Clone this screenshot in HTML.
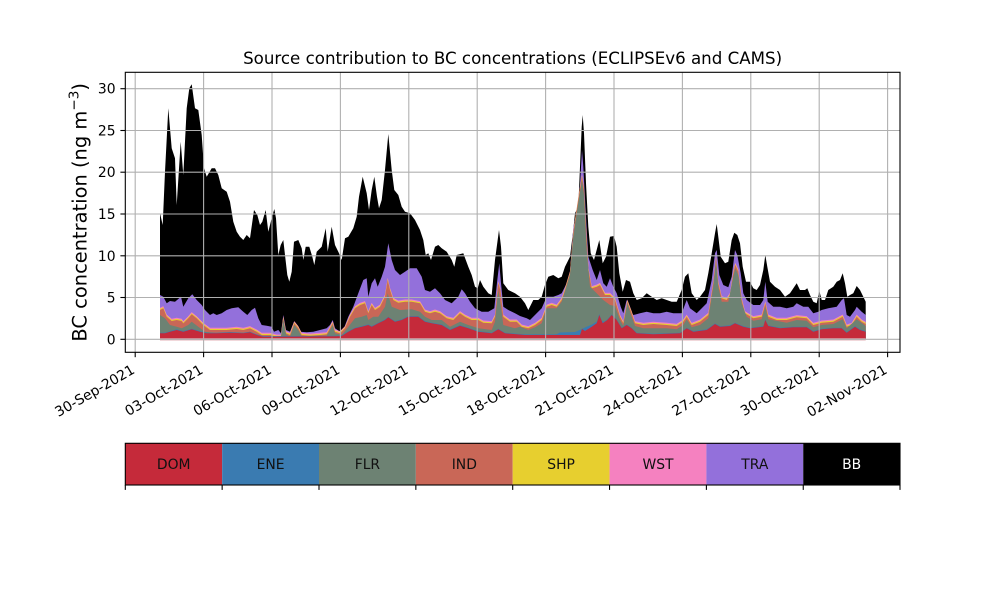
<!DOCTYPE html>
<html><head><meta charset="utf-8"><style>
html,body{margin:0;padding:0;background:#fff;}
svg{display:block;font-family:"DejaVu Sans","Liberation Sans",sans-serif;}
</style></head><body>
<svg width="1000" height="600" viewBox="0 0 1000 600" xmlns="http://www.w3.org/2000/svg">
<rect width="1000" height="600" fill="#fff"/>
<defs>
<path id="ind" d="M160,339.3 L160,310 L163.3,308.3 L166.7,316.7 L171.7,321 L176.7,320 L181.7,321 L183.3,323.3 L188.3,318.3 L191.7,314.3 L196.7,318.3 L203.3,325 L210,330 L216.7,330 L226.7,330 L236.7,329 L243.3,330 L250,328.3 L256.7,331.7 L261.7,335 L270,335 L276.7,336.7 L281,336.7 L283.3,318.3 L286,333.3 L290,335 L294.3,323.3 L298.3,328.3 L301.7,335 L310,335.7 L320,335 L326.7,334.3 L332.7,323.3 L335,331.7 L340,333.3 L345,328.3 L350,316.7 L355,308.3 L360,305 L365,303.3 L368.3,313.3 L371.7,305 L375,310 L380,306.7 L385,296.7 L387.7,280 L390,290 L393.3,300 L398.3,302.7 L405,301.7 L411.7,301.7 L420,303.3 L425,311.7 L430,313.3 L435,311.7 L440,313.3 L446.7,318.3 L453.3,320 L460,313.3 L465,316.7 L471.7,320 L478.3,320 L483.3,322.7 L491.7,323.3 L495,316.7 L498.3,283.3 L500.3,290 L503.3,316.7 L510,321.7 L516.7,321.7 L521.7,326.7 L528.3,328.3 L535,325 L541.7,320 L546.7,306.7 L551.7,305 L556.7,306.7 L561.7,300 L565,290 L570,273.3 L573.3,233.3 L576,215 L579,195 L582,176.7 L584,190 L586.7,240 L588.5,270 L591.7,288.3 L596.7,286.7 L600,285 L605,295 L610,295 L615,300 L620,316.7 L623.3,323.3 L627.3,301.7 L631.7,313.3 L635,323.3 L643.3,325 L653.3,324 L666.7,325 L676.7,326 L683.3,321.7 L686.7,316.7 L691.7,325 L700,321.7 L708.3,315 L713.3,283.3 L716,258.3 L718.3,283.3 L721.7,298.3 L726.7,300 L730,295 L733.3,273.3 L735.3,265 L738.3,271.7 L741.7,300 L745,313.3 L753.3,318.3 L761.7,316.7 L765.3,303.3 L768.3,316.7 L776.7,320 L786.7,320 L796.7,317.3 L806.7,318.3 L813.3,325 L821.7,322.7 L833.3,321.7 L842.7,316.7 L846.7,326.7 L851.7,325 L856.7,316.7 L861.7,321.7 L865.7,324 L865.7,339.3 Z"/>
<path id="dom" d="M160,339.3 L160,333.3 L165,333.3 L170,331.7 L176.7,330 L183.3,331.7 L191.7,329.3 L200,331.7 L206.7,333.3 L216.7,333.3 L230,332.7 L243.3,333.3 L250,332.3 L256.7,335 L263.3,336.7 L336.7,336.3 L341.7,336 L348.3,331.7 L355,328.3 L361.7,326.7 L368.3,325 L371.7,326.7 L378.3,323.3 L385,320 L388.3,317.3 L395,321.7 L401.7,320 L408.3,316.7 L418.3,316.7 L425,321.7 L431.7,323.3 L441.7,325 L450,330 L460,325.7 L468.3,328.3 L478.3,331.7 L491.7,333.3 L498.3,329.3 L505,333.3 L525,335 L540,335 L560,335 L580,335 L582,329 L585,331 L591.7,326.7 L596.7,323.3 L599.3,315 L602.7,323.3 L607.3,320 L611.7,315 L616.7,320 L621.7,328.3 L626.7,325 L631.7,328.3 L636.7,333.3 L653.3,334.3 L680,333.3 L686.7,328.3 L693.3,331.7 L706.7,330 L715,324 L720,326.7 L730,326 L735,323.3 L743.3,326.7 L750,328.3 L763.3,326.7 L765.3,320 L768.3,326 L780,328.3 L793.3,327.3 L806.7,327.3 L813.3,331.7 L821.7,329.3 L833.3,328.3 L841.7,328.3 L846.7,332.7 L855,326.7 L860,330 L865.7,331.7 L865.7,339.3 Z"/>
</defs>
<!-- BB total -->
<path fill="#000" d="M160,339.3 L160,213.3 L162.7,225 L165,171.7 L168.3,108.3 L171.7,148.3 L175,158.3 L176.7,205 L180.7,141.7 L183.3,175 L186.7,108.3 L189.3,88.3 L191.7,84.3 L195,108.3 L198.3,110 L201.7,135 L204,168.3 L206.7,176.7 L211.7,168.3 L215,168.3 L218.3,175 L221.7,188.3 L226.7,191.7 L230,201.7 L233.3,221.7 L236.7,231.7 L240,236.7 L243.3,240 L246.7,235 L250,238.3 L254,210 L257.3,215 L260,225 L262.3,221.7 L265.7,210 L268.3,231.7 L271.7,218.3 L274.3,209 L276,218.3 L278.3,255 L280.7,245 L283.3,240 L285,255 L287.3,275 L289.3,281.7 L291.7,271.7 L294,241.7 L298.3,240 L301.7,248.3 L303.3,260 L305.7,246.7 L309.3,246.7 L312.3,256.7 L314.3,265 L316.7,251.7 L321.7,246.7 L325.7,228.3 L327.7,251.7 L331.7,226.7 L335,245 L339,253.3 L341.7,260 L345,238.3 L348.3,236.7 L353.3,228.3 L356.7,216.7 L359,196.7 L362.7,176.7 L366.7,193.3 L369,210 L371.7,190 L374.3,176.7 L377,196.7 L379,208.3 L381.7,200 L385,170 L388.3,134 L391.7,170 L394.3,190 L398.3,195 L401.7,206.7 L405,211.7 L410,213.3 L415,220 L420,230 L423.3,240 L425.7,255 L428.3,253.3 L431,260 L435,246.7 L438.3,245 L441.7,248.3 L446.7,251.7 L451.7,260 L454.3,266.7 L456.7,255 L463.3,253.3 L468.3,266.7 L471.7,275 L475,286.7 L477.7,288.3 L480,280 L483.3,286.7 L488.3,293.3 L491.7,295 L495,260 L499,230 L501,246.7 L503.3,283.3 L508.3,290 L515,293.3 L520,296.7 L525,303.3 L528.3,310 L533.3,300 L538.3,300 L541.7,296.7 L545,285 L548.3,276.7 L553.3,275 L558.3,278.3 L561.7,276.7 L565,266.7 L570,256.7 L573.3,230 L575,213.3 L578.3,206.7 L580,166.7 L581.7,126.7 L582.7,115 L584,133.3 L586,183.3 L588.3,226.7 L590.7,253.3 L594,260 L599.3,240 L602.7,263.3 L606,256.7 L610,236.7 L614,236 L616.7,246.7 L619.3,273.3 L622.7,291.7 L626,280 L630,281.7 L633.3,293.3 L636.7,300 L641.7,298.3 L646.7,293.3 L651.7,296.7 L656.7,300 L661.7,298.3 L666.7,300 L671.7,301.7 L676.7,301.7 L681.7,290 L685,276.7 L688.3,273.3 L691.7,293.3 L696.7,300 L700,296.7 L705,290 L708.3,273.3 L711.7,253.3 L715,233.3 L716.7,224 L718.3,236.7 L720.7,256.7 L725,263.3 L728.3,261.7 L731.7,240 L734.3,232.7 L737.3,235 L740,243.3 L742.7,266.7 L746,281.7 L750,281.7 L753.3,288.3 L756.7,290 L760,285 L763.3,270 L765.3,255 L767.3,266.7 L770,281.7 L775,286.7 L780,290 L785,296.7 L790,293.3 L796.7,283.3 L800,290 L805,290 L807.3,288.3 L810,295 L813.3,301.7 L816.7,303.3 L819.3,290.7 L821.7,300 L825,300 L828.3,290 L833.3,286.7 L836.7,281.7 L840,280 L842.7,273.3 L845,283.3 L847.3,296.7 L850,295 L853.3,293.3 L856.7,286 L860,290 L863.3,296.7 L865.7,301.7 L865.7,339.3 Z"/>
<!-- TRA -->
<path fill="#9370DB" d="M160,339.3 L160,295 L163.3,296.7 L166.7,303.3 L170,301 L175,301.7 L178.3,299 L181,296.7 L183.3,306.7 L188.3,298.3 L192.3,294.3 L196.7,300 L201.7,305 L205,310 L210,315 L213.3,313.3 L216.7,315 L221.7,313.3 L226.7,310 L231.7,308.3 L238.3,307.3 L243.3,311.7 L247.3,315 L251.7,310 L255,307.7 L258.3,318.3 L261.7,325 L266.7,325.7 L271.7,326.7 L274,331.7 L278.3,330 L281,333.3 L283.3,315 L286,330 L290,331.7 L294,321.7 L297.3,325 L300,331.7 L306.7,332.3 L313.3,331.7 L320,330 L326.7,328.3 L330,325 L332.7,320 L335,328.3 L340,331.7 L343.3,330 L348.3,316.7 L353.3,306.7 L358.3,293.3 L363.3,280 L366.7,278.3 L368.3,296.7 L371.7,283.3 L375,278.3 L377.7,286.7 L381.7,276.7 L385,266.7 L388.3,243.3 L391.7,260 L395,270 L400,275 L405,271.7 L410,268.3 L416.7,268.3 L421.7,276.7 L425,290 L430,291.7 L435,288.3 L440,293.3 L445,300 L451.7,303.3 L458.3,296.7 L461.7,289.3 L465,293.3 L470,301.7 L475,308.3 L481.7,311.7 L488.3,311.7 L494.3,308.3 L497.3,280 L499.3,263.3 L501,283.3 L503.3,306.7 L508.3,310 L515,313.3 L520,316 L526.7,318.3 L530,320 L536.7,313.3 L541.7,308.3 L546.7,296.7 L553.3,296.7 L558.3,295 L561.7,293.3 L566.7,283.3 L570,271.7 L573.3,228 L575,220 L578.3,205 L580,185 L582,150 L583.3,166.7 L586,216.7 L588.3,256.7 L592.7,270 L596.7,280 L600,270 L603.3,283.3 L606.7,286.7 L610,278.3 L613.3,286.7 L616.7,293.3 L620.7,306.7 L623.3,313.3 L626.7,300 L630,310 L633.3,315 L640,313.3 L646.7,311.7 L653.3,313.3 L660,313.3 L666.7,311.7 L673.3,313.3 L681.7,313.3 L686.7,300 L690,308.3 L696.7,313.3 L700,310 L706.7,303.3 L711.7,280 L715,253.3 L716.7,250 L719.3,275 L723.3,285 L728.3,287.3 L731.7,276.7 L735,250 L737.3,255 L740.7,273.3 L743.3,293.3 L746.7,300 L753.3,305 L760,305 L763.3,300 L765.3,281.7 L767.7,301.7 L773.3,306.7 L780,306.7 L786.7,308.3 L793.3,306.7 L796.7,303.3 L803.3,306.7 L808.3,306.7 L813.3,313.3 L818.3,311.7 L821.7,310 L828.3,308.3 L836.7,306.7 L841.7,300 L844,298.3 L846.7,315 L850,316.7 L855,310 L856.7,306.7 L861.7,311.7 L865.7,315 L865.7,339.3 Z"/>
<!-- WST / SHP / IND -->
<use href="#ind" fill="#F581C0" transform="translate(0,-2.2)"/>
<use href="#ind" fill="#E7CF2F" transform="translate(0,-1.1)"/>
<use href="#ind" fill="#C96757"/>
<!-- FLR -->
<path fill="#6D8273" d="M160,339.3 L160,315 L165,318.3 L170,325 L176.7,326.7 L181.7,328.3 L188.3,325 L191.7,321.7 L198.3,326.7 L205,331.7 L216.7,333.3 L230,332.3 L243.3,333.3 L250,331.7 L256.7,335 L263.3,336.7 L276.7,337.7 L281,336.7 L283.3,320 L286,334.3 L290,336.7 L294.3,325 L298.3,330 L301.7,336.7 L326.7,335.7 L332.7,325 L335,333.3 L341.7,335 L348.3,326.7 L355,318.3 L361.7,316.7 L366.7,315 L368.3,320 L373.3,316.7 L378.3,316.7 L385,306.7 L387.7,293.3 L391.7,306.7 L400,310 L411.7,309.3 L420,311.7 L425,316.7 L431.7,320 L441.7,320 L450,326.7 L460,321.7 L468.3,325 L478.3,328.3 L491.7,330 L495,321.7 L498.3,290 L501,306.7 L503.3,325 L515,328.3 L520,326.7 L528.3,330 L535,327.3 L541.7,323.3 L546.7,308.3 L556.7,308.3 L561.7,301.7 L570,275 L573.3,236.7 L576,218 L579,198 L582,180 L584,195 L586.7,250 L590,286.7 L596.7,293.3 L603.3,300 L610,305 L615,306 L620,320 L623.3,326 L627.3,303.3 L631.7,316.7 L635,326 L643.3,328.3 L666.7,328.3 L676.7,329.3 L683.3,325 L686.7,319.3 L691.7,327.3 L700,325 L708.3,318.3 L713.3,286.7 L716,261.7 L718.3,286.7 L721.7,301.7 L728.3,301.7 L733.3,276.7 L735.3,268.3 L738.3,275 L741.7,303.3 L746.7,316.7 L753.3,320.7 L761.7,319.3 L765.3,306.7 L768.3,319.3 L786.7,322.7 L796.7,320 L806.7,320.7 L813.3,327.3 L821.7,325 L833.3,324 L842.7,319.3 L846.7,328.3 L856.7,319.3 L865.7,326 L865.7,339.3 Z"/>
<!-- ENE -->
<use href="#dom" fill="#3A7BB1" transform="translate(0,-0.6)"/>
<path fill="#3A7BB1" d="M553,336 L560,332.5 L575,332 L581,329.5 L586,327 L592,324.5 L597,321.5 L599.3,314 L601,321 L604,321.5 L606,336 Z"/>
<!-- DOM -->
<use href="#dom" fill="#C52A3A"/>
<rect x="160" y="338.2" width="705.7" height="2.2" fill="#DC9EA6"/>
<!-- grid -->
<g stroke="#b0b0b0" stroke-width="1.1">
<line x1="125.3" x2="900" y1="339.3" y2="339.3"/>
<line x1="125.3" x2="900" y1="297.5" y2="297.5"/>
<line x1="125.3" x2="900" y1="255.8" y2="255.8"/>
<line x1="125.3" x2="900" y1="214" y2="214"/>
<line x1="125.3" x2="900" y1="172.2" y2="172.2"/>
<line x1="125.3" x2="900" y1="130.5" y2="130.5"/>
<line x1="125.3" x2="900" y1="88.7" y2="88.7"/>
<line y1="72.3" y2="352.3" x1="135.2" x2="135.2"/>
<line y1="72.3" y2="352.3" x1="203.6" x2="203.6"/>
<line y1="72.3" y2="352.3" x1="272" x2="272"/>
<line y1="72.3" y2="352.3" x1="340.4" x2="340.4"/>
<line y1="72.3" y2="352.3" x1="408.8" x2="408.8"/>
<line y1="72.3" y2="352.3" x1="477.2" x2="477.2"/>
<line y1="72.3" y2="352.3" x1="545.6" x2="545.6"/>
<line y1="72.3" y2="352.3" x1="614" x2="614"/>
<line y1="72.3" y2="352.3" x1="682.4" x2="682.4"/>
<line y1="72.3" y2="352.3" x1="750.8" x2="750.8"/>
<line y1="72.3" y2="352.3" x1="819.2" x2="819.2"/>
<line y1="72.3" y2="352.3" x1="887.6" x2="887.6"/>
</g>
<!-- axes frame and ticks -->
<rect x="125.3" y="72.3" width="774.7" height="280" fill="none" stroke="#000" stroke-width="1.1"/>
<g stroke="#000" stroke-width="1.1">
<line x1="120.4" x2="125.3" y1="339.3" y2="339.3"/>
<line x1="120.4" x2="125.3" y1="297.5" y2="297.5"/>
<line x1="120.4" x2="125.3" y1="255.8" y2="255.8"/>
<line x1="120.4" x2="125.3" y1="214" y2="214"/>
<line x1="120.4" x2="125.3" y1="172.2" y2="172.2"/>
<line x1="120.4" x2="125.3" y1="130.5" y2="130.5"/>
<line x1="120.4" x2="125.3" y1="88.7" y2="88.7"/>
<line y1="352.3" y2="357.2" x1="135.2" x2="135.2"/>
<line y1="352.3" y2="357.2" x1="203.6" x2="203.6"/>
<line y1="352.3" y2="357.2" x1="272" x2="272"/>
<line y1="352.3" y2="357.2" x1="340.4" x2="340.4"/>
<line y1="352.3" y2="357.2" x1="408.8" x2="408.8"/>
<line y1="352.3" y2="357.2" x1="477.2" x2="477.2"/>
<line y1="352.3" y2="357.2" x1="545.6" x2="545.6"/>
<line y1="352.3" y2="357.2" x1="614" x2="614"/>
<line y1="352.3" y2="357.2" x1="682.4" x2="682.4"/>
<line y1="352.3" y2="357.2" x1="750.8" x2="750.8"/>
<line y1="352.3" y2="357.2" x1="819.2" x2="819.2"/>
<line y1="352.3" y2="357.2" x1="887.6" x2="887.6"/>
</g>
<g font-size="13.9" fill="#000" text-anchor="end">
<text x="115.6" y="344.3">0</text>
<text x="115.6" y="302.5">5</text>
<text x="115.6" y="260.8">10</text>
<text x="115.6" y="219">15</text>
<text x="115.6" y="177.2">20</text>
<text x="115.6" y="135.5">25</text>
<text x="115.6" y="93.7">30</text>
<text transform="translate(135.7,372.5) rotate(-30)">30-Sep-2021</text>
<text transform="translate(204.1,372.5) rotate(-30)">03-Oct-2021</text>
<text transform="translate(272.5,372.5) rotate(-30)">06-Oct-2021</text>
<text transform="translate(340.9,372.5) rotate(-30)">09-Oct-2021</text>
<text transform="translate(409.3,372.5) rotate(-30)">12-Oct-2021</text>
<text transform="translate(477.7,372.5) rotate(-30)">15-Oct-2021</text>
<text transform="translate(546.1,372.5) rotate(-30)">18-Oct-2021</text>
<text transform="translate(614.5,372.5) rotate(-30)">21-Oct-2021</text>
<text transform="translate(682.9,372.5) rotate(-30)">24-Oct-2021</text>
<text transform="translate(751.3,372.5) rotate(-30)">27-Oct-2021</text>
<text transform="translate(819.7,372.5) rotate(-30)">30-Oct-2021</text>
<text transform="translate(888.1,372.5) rotate(-30)">02-Nov-2021</text>
</g>
<text x="512.6" y="64" font-size="16.67" text-anchor="middle" fill="#000">Source contribution to BC concentrations (ECLIPSEv6 and CAMS)</text>
<text transform="translate(86.7,212.3) rotate(-90)" font-size="19.44" text-anchor="middle" fill="#000">BC concentration (ng m<tspan font-size="13.6" dy="-8">−3</tspan><tspan dy="8">)</tspan></text>
<!-- colorbar legend -->
<rect x="125.3" y="443.3" width="96.85" height="41.7" fill="#C52A3A"/>
<rect x="222.15" y="443.3" width="96.85" height="41.7" fill="#3A7BB1"/>
<rect x="319" y="443.3" width="96.85" height="41.7" fill="#6D8273"/>
<rect x="415.85" y="443.3" width="96.85" height="41.7" fill="#C96757"/>
<rect x="512.7" y="443.3" width="96.85" height="41.7" fill="#E7CF2F"/>
<rect x="609.55" y="443.3" width="96.85" height="41.7" fill="#F581C0"/>
<rect x="706.4" y="443.3" width="96.85" height="41.7" fill="#9370DB"/>
<rect x="803.25" y="443.3" width="96.75" height="41.7" fill="#000"/>
<rect x="125.3" y="443.3" width="774.7" height="41.7" fill="none" stroke="#000" stroke-width="1.1"/>
<g stroke="#000" stroke-width="1.1">
<line x1="125.3" x2="125.3" y1="485" y2="489.9"/>
<line x1="222.15" x2="222.15" y1="485" y2="489.9"/>
<line x1="319" x2="319" y1="485" y2="489.9"/>
<line x1="415.85" x2="415.85" y1="485" y2="489.9"/>
<line x1="512.7" x2="512.7" y1="485" y2="489.9"/>
<line x1="609.55" x2="609.55" y1="485" y2="489.9"/>
<line x1="706.4" x2="706.4" y1="485" y2="489.9"/>
<line x1="803.25" x2="803.25" y1="485" y2="489.9"/>
<line x1="900" x2="900" y1="485" y2="489.9"/>
</g>
<g font-size="13.9" text-anchor="middle" fill="#111">
<text x="173.7" y="469.2">DOM</text>
<text x="270.6" y="469.2">ENE</text>
<text x="367.4" y="469.2">FLR</text>
<text x="464.3" y="469.2">IND</text>
<text x="561.1" y="469.2">SHP</text>
<text x="658" y="469.2">WST</text>
<text x="754.8" y="469.2">TRA</text>
<text x="851.6" y="469.2" fill="#fff">BB</text>
</g>
</svg>
</body></html>
